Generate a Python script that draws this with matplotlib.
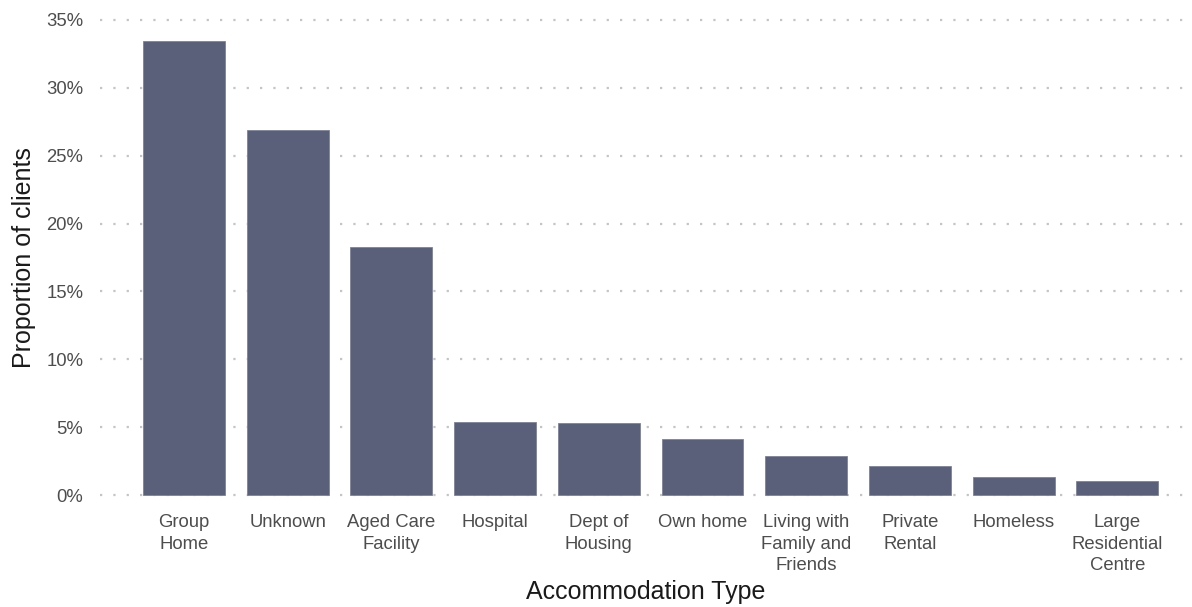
import matplotlib.pyplot as plt
from matplotlib.ticker import FuncFormatter

plt.rcParams["font.family"] = ["Liberation Sans", "DejaVu Sans"]

categories = [
    "Group\nHome",
    "Unknown",
    "Aged Care\nFacility",
    "Hospital",
    "Dept of\nHousing",
    "Own home",
    "Living with\nFamily and\nFriends",
    "Private\nRental",
    "Homeless",
    "Large\nResidential\nCentre",
]
proportions = [33.45, 26.9, 18.3, 5.4, 5.3, 4.15, 2.9, 2.15, 1.35, 1.05]
y_ticks = [0, 5, 10, 15, 20, 25, 30, 35]

fig = plt.figure(figsize=(11.92, 6.07), dpi=100)
ax = fig.add_axes([100 / 1192, 0.1733, 1 - 100 / 1192, 0.9783 - 0.1733])

x = range(len(categories))
ax.bar(x, proportions, width=0.79, color="#5a607a", edgecolor="#7d8298",
       linewidth=0.6, zorder=3)

ax.set_xlim(-0.81, 9.72)
ax.set_ylim(-0.5, 35.5)
ax.set_yticks(y_ticks)
ax.yaxis.set_major_formatter(FuncFormatter(lambda v, _: f"{v:.0f}%"))
ax.set_xticks(list(x))
ax.set_xticklabels(categories, linespacing=1.35)

ax.grid(axis="y", linestyle=(0, (1, 5)), color="#c4c4c4", linewidth=1.6, zorder=0)
ax.grid(axis="x", visible=False)
for s in ax.spines.values():
    s.set_visible(False)
ax.tick_params(axis="both", length=0, labelsize=13.3, labelcolor="#4d4d4d")
ax.tick_params(axis="y", pad=12)
ax.tick_params(axis="x", pad=9)

ax.set_xlabel("Accommodation Type", fontsize=18, color="#1a1a1a")
ax.set_ylabel("Proportion of clients", fontsize=18, color="#1a1a1a")
ax.xaxis.set_label_coords(0.5, -0.161)
ax.yaxis.set_label_coords(-0.059, 0.5)

fig.savefig("out.png", dpi=100)
